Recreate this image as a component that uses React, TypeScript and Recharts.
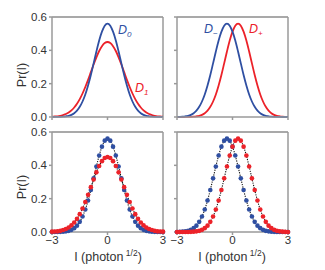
import { LineChart, Line, XAxis, YAxis, ReferenceLine } from "recharts";

// x grid, step 0.15 from -3 to 3
const xs = [
  -3, -2.85, -2.7, -2.55, -2.4, -2.25, -2.1, -1.95, -1.8, -1.65, -1.5, -1.35, -1.2, -1.05, -0.9, -0.75, -0.6, -0.45, -0.3, -0.15,
  0, 0.15, 0.3, 0.45, 0.6, 0.75, 0.9, 1.05, 1.2, 1.35, 1.5, 1.65, 1.8, 1.95, 2.1, 2.25, 2.4, 2.55, 2.7, 2.85, 3,
];

const d0 = [
  0.0001, 0.0002, 0.0004, 0.001, 0.002, 0.004, 0.007, 0.013, 0.023, 0.038, 0.061, 0.093, 0.135, 0.189, 0.252, 0.322, 0.393, 0.459, 0.512, 0.548,
  0.56, 0.548, 0.512, 0.459, 0.393, 0.322, 0.252, 0.189, 0.135, 0.093, 0.061, 0.038, 0.023, 0.013, 0.007, 0.004, 0.002, 0.001, 0.0004, 0.0002, 0.0001,
];

const d1 = [
  0.002, 0.003, 0.004, 0.007, 0.012, 0.018, 0.027, 0.04, 0.057, 0.079, 0.107, 0.141, 0.18, 0.223, 0.269, 0.315, 0.358, 0.396, 0.425, 0.444,
  0.45, 0.444, 0.425, 0.396, 0.358, 0.315, 0.269, 0.223, 0.18, 0.141, 0.107, 0.079, 0.057, 0.04, 0.027, 0.018, 0.012, 0.007, 0.004, 0.003, 0.002,
];

const dMinus = [
  0.0004, 0.001, 0.002, 0.004, 0.007, 0.013, 0.023, 0.038, 0.061, 0.093, 0.135, 0.189, 0.252, 0.322, 0.393, 0.459, 0.512, 0.548, 0.56, 0.548,
  0.512, 0.459, 0.393, 0.322, 0.252, 0.189, 0.135, 0.093, 0.061, 0.038, 0.023, 0.013, 0.007, 0.004, 0.002, 0.001, 0.0004, 0.0002, 0.0001, 0, 0,
];

const dPlus = [
  0, 0, 0.0001, 0.0002, 0.0004, 0.001, 0.002, 0.004, 0.007, 0.013, 0.023, 0.038, 0.061, 0.093, 0.135, 0.189, 0.252, 0.322, 0.393, 0.459,
  0.512, 0.548, 0.56, 0.548, 0.512, 0.459, 0.393, 0.322, 0.252, 0.189, 0.135, 0.093, 0.061, 0.038, 0.023, 0.013, 0.007, 0.004, 0.002, 0.001, 0.0004,
];

const xTicks = [-3, 0, 3];
const yTicks = [0, 0.2, 0.4, 0.6];

const data = xs.map((x, i) => ({ x, d0: d0[i], d1: d1[i], dm: dMinus[i], dp: dPlus[i] }));

const BLUE = "#2f4fa2";
const RED = "#ec2229";
const FRAME = "#9a9a9a";
const FONT = "'Liberation Sans', Arial, sans-serif";

const fmtX = (v: number) => (v < 0 ? `\u2212${-v}` : `${v}`);

type PanelProps = {
  top: boolean;
  left: boolean;
  keys: [string, string];
};

function Panel({ top, left, keys }: PanelProps) {
  const margin = {
    top: top ? 17 : 132,
    bottom: top ? 133 : 18,
    left: left ? 0 : 157,
    right: left ? 162 : 37,
  };
  const tickStyle = { fill: "#333", fontSize: 11.5, fontFamily: FONT };
  return (
    <div style={{ position: "absolute", left: 0, top: 0 }}>
      <LineChart width={325} height={270} data={data} margin={margin}>
        <XAxis
          dataKey="x"
          type="number"
          domain={[-3, 3]}
          ticks={xTicks}
          tickFormatter={top ? () => "" : fmtX}
          tick={tickStyle}
          tickSize={3}
          tickMargin={1}
          height={20}
          stroke={FRAME}
          strokeWidth={1.5}
        />
        <YAxis
          type="number"
          domain={[0, 0.6]}
          ticks={yTicks}
          tickFormatter={left ? (v: number) => v.toFixed(1) : () => ""}
          tick={tickStyle}
          tickSize={3}
          tickMargin={2}
          width={left ? 52 : 20}
          stroke={FRAME}
          strokeWidth={1.5}
        />
        <ReferenceLine y={0.6} stroke="#555" strokeWidth={1.2} />
        <ReferenceLine x={3} stroke={FRAME} strokeWidth={1.5} />
        {top ? (
          <>
            <Line dataKey={keys[1]} type="monotone" stroke={RED} strokeWidth={1.8} dot={false} isAnimationActive={false} />
            <Line dataKey={keys[0]} type="monotone" stroke={BLUE} strokeWidth={1.8} dot={false} isAnimationActive={false} />
          </>
        ) : (
          <>
            <Line dataKey={keys[0]} stroke="none" dot={{ r: 2.3, fill: BLUE, stroke: "none" }} isAnimationActive={false} />
            <Line dataKey={keys[1]} stroke="none" dot={{ r: 2.3, fill: RED, stroke: "none" }} isAnimationActive={false} />
            <Line dataKey={keys[0]} type="monotone" stroke="#111" strokeWidth={1.1} strokeDasharray="1.2 1.2" dot={false} isAnimationActive={false} />
            <Line dataKey={keys[1]} type="monotone" stroke="#111" strokeWidth={1.1} strokeDasharray="1.2 1.2" dot={false} isAnimationActive={false} />
          </>
        )}
      </LineChart>
    </div>
  );
}

function XLabel({ cx }: { cx: number }) {
  return (
    <text x={cx} y={261} textAnchor="middle" fontSize={12.5} fill="#333" fontFamily={FONT}>
      I (photon
      <tspan fontSize={8.5} dy={-5}>
        {" 1/2"}
      </tspan>
      <tspan dy={5}>)</tspan>
    </text>
  );
}

function YLabel({ cy }: { cy: number }) {
  return (
    <text x={22} y={cy} transform={`rotate(-90 22 ${cy})`} textAnchor="middle" dominantBaseline="central" fontSize={12.5} fill="#333" fontFamily={FONT}>
      Pr(I)
    </text>
  );
}

function DLabel({ x, y, sub, color }: { x: number; y: number; sub: string; color: string }) {
  return (
    <text x={x} y={y} fontSize={12.5} fill={color} fontFamily={FONT} fontStyle="italic">
      D
      <tspan fontSize={8} dy={3}>
        {sub}
      </tspan>
    </text>
  );
}

export default function App() {
  return (
    <div style={{ position: "absolute", left: 0, top: 0, width: 325, height: 270, background: "#fff" }}>
      <Panel top left keys={["d0", "d1"]} />
      <Panel top left={false} keys={["dm", "dp"]} />
      <Panel top={false} left keys={["d0", "d1"]} />
      <Panel top={false} left={false} keys={["dm", "dp"]} />
      <svg width={325} height={270} style={{ position: "absolute", left: 0, top: 0, pointerEvents: "none" }}>
        <YLabel cy={75} />
        <YLabel cy={187} />
        <XLabel cx={108} />
        <XLabel cx={232} />
        <DLabel x={118} y={34} sub="0" color={BLUE} />
        <DLabel x={135} y={92} sub="1" color={RED} />
        <DLabel x={204} y={33} sub={"\u2212"} color={BLUE} />
        <DLabel x={249} y={33} sub="+" color={RED} />
      </svg>
    </div>
  );
}
